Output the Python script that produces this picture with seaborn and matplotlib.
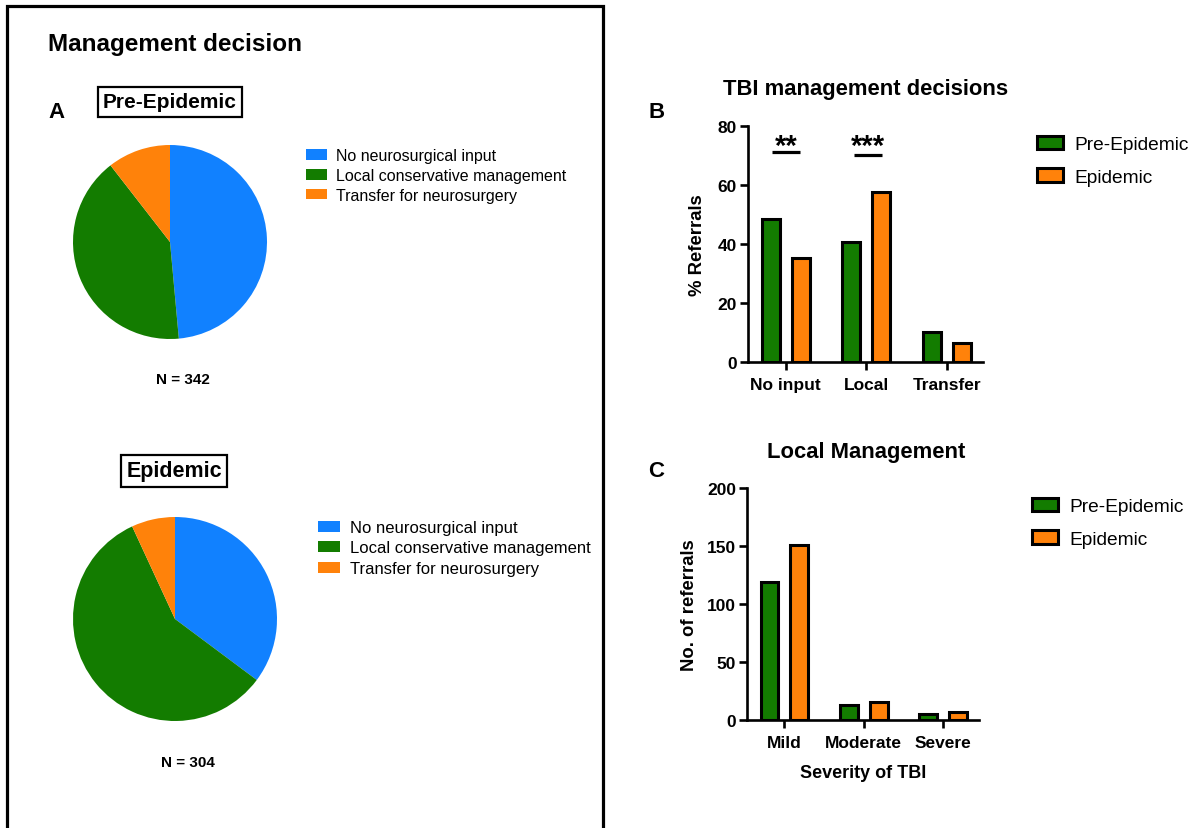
import numpy as np
import pandas as pd
import matplotlib
matplotlib.use("Agg")
import matplotlib.pyplot as plt
from matplotlib.patches import Patch, Rectangle
import seaborn as sns

# ---------------- data ----------------
pie_labels = ["No neurosurgical input", "Local conservative management", "Transfer for neurosurgery"]
pre_pct = [48.5, 40.9, 10.5]
epi_pct = [35.2, 57.9, 6.9]
pre_n = "N = 342"
epi_n = "N = 304"

b_categories = ["No input", "Local", "Transfer"]
b_pre = [48.5, 40.8, 10.0]
b_epi = [35.2, 57.6, 6.4]
b_yticks = [0, 20, 40, 60, 80]

c_categories = ["Mild", "Moderate", "Severe"]
c_pre = [119, 13, 5]
c_epi = [151, 15, 7]
c_yticks = [0, 50, 100, 150, 200]

periods = ["Pre-Epidemic", "Epidemic"]

# ---------------- style ----------------
sns.set_theme(style="ticks")
plt.rcParams["font.family"] = ["Liberation Sans", "DejaVu Sans"]
plt.rcParams["axes.linewidth"] = 1.9
for k in ["text.color", "axes.labelcolor", "xtick.color", "ytick.color", "axes.edgecolor"]:
    plt.rcParams[k] = "black"

BLUE = "#1181FF"
GREEN = "#137C00"
ORANGE = "#FF820A"
pie_colors = [BLUE, GREEN, ORANGE]

W, H = 1200, 829
fig = plt.figure(figsize=(W / 100, H / 100), dpi=100)


def px_axes(x0, y0, x1, y1):
    """axes from pixel box (top-left origin)"""
    return fig.add_axes([x0 / W, 1 - y1 / H, (x1 - x0) / W, (y1 - y0) / H])


def ftext(x, y, s, **kw):
    fig.text(x / W, 1 - y / H, s, **kw)


# left framing box
fig.patches.append(Rectangle((7 / W, -0.02), (603 - 7) / W, (822 / H) + 0.02,
                             transform=fig.transFigure, fill=False,
                             edgecolor="black", linewidth=2.3))

ftext(48, 44, "Management decision", fontsize=17.5, fontweight="bold", va="center", ha="left")
ftext(48, 112, "A", fontsize=16, fontweight="bold", va="center", ha="left")

box = dict(boxstyle="square,pad=0.25", fc="white", ec="black", lw=1.6)
ftext(170, 103, "Pre-Epidemic", fontsize=15, fontweight="bold", va="center", ha="center", bbox=box)
ftext(174, 472, "Epidemic", fontsize=15.5, fontweight="bold", va="center", ha="center", bbox=box)


def draw_pie(cx, cy, r, vals, leg_x, leg_y, fs, spacing):
    ax = px_axes(cx - r, cy - r, cx + r, cy + r)
    ax.pie(vals, colors=pie_colors, startangle=90, counterclock=False,
           wedgeprops=dict(linewidth=0))
    ax.set_xlim(-1, 1)
    ax.set_ylim(-1, 1)
    ax.set_aspect("equal")
    handles = [Patch(facecolor=c, edgecolor="none") for c in pie_colors]
    fig.legend(handles, pie_labels, loc="upper left",
               bbox_to_anchor=(leg_x / W, 1 - leg_y / H), frameon=False,
               fontsize=fs, handlelength=1.3, handleheight=0.65,
               handletextpad=0.6, labelspacing=spacing, borderaxespad=0, borderpad=0)


draw_pie(170, 243, 97, pre_pct, 306, 149, 11.5, 0.3)
ftext(183, 380, pre_n, fontsize=11, fontweight="bold", va="center", ha="center")
draw_pie(175, 620, 102, epi_pct, 318, 521, 12, 0.33)
ftext(188, 763, epi_n, fontsize=11, fontweight="bold", va="center", ha="center")


# ---------------- bar charts ----------------
letter_map = {"TBI management decisions": "B", "Local Management": "C"}


def bar_panel(x0, y_top, x1, y_bot, cats, pre, epi, yticks, ylabel, xlabel, title,
              title_y, letter_y, leg_y, leg_x, ylabelpad):
    ax = px_axes(x0, y_top, x1, y_bot)
    df = pd.DataFrame({
        "cat": cats * 2,
        "val": list(pre) + list(epi),
        "period": [periods[0]] * len(cats) + [periods[1]] * len(cats),
    })
    sns.barplot(data=df, x="cat", y="val", hue="period", order=cats,
                hue_order=periods, palette=[GREEN, ORANGE], width=0.75, gap=0.4,
                saturation=1, edgecolor="black", linewidth=2.2, errorbar=None,
                legend=False, ax=ax)
    ax.set_xlim(-0.47, 2.45)
    ax.set_ylim(yticks[0], yticks[-1])
    ax.set_yticks(yticks)
    sns.despine(ax=ax)
    ax.tick_params(axis="both", direction="out", length=6, width=1.9,
                   labelsize=12.5, color="black")
    ax.tick_params(axis="x", pad=5)
    ax.tick_params(axis="y", pad=2)
    for lab in ax.get_xticklabels() + ax.get_yticklabels():
        lab.set_fontweight("bold")
    ax.set_ylabel(ylabel, fontsize=13.3, fontweight="bold", labelpad=ylabelpad)
    ax.set_xlabel(xlabel, fontsize=13, fontweight="bold", labelpad=10)
    ftext(866, title_y, title, fontsize=15.8, fontweight="bold", ha="center", va="center")
    ftext(648, letter_y, letter_map[title], fontsize=16, fontweight="bold", ha="left", va="center")
    handles = [Patch(facecolor=c, edgecolor="black", linewidth=2.2) for c in (GREEN, ORANGE)]
    fig.legend(handles, periods, loc="upper left",
               bbox_to_anchor=(leg_x / W, 1 - leg_y / H), frameon=False,
               fontsize=13.8, handlelength=1.35, handleheight=0.7,
               handletextpad=0.6, labelspacing=0.78, borderaxespad=0, borderpad=0)
    return ax


axB = bar_panel(748, 127.3, 983, 362.7, b_categories, b_pre, b_epi, b_yticks,
                "% Referrals", "", "TBI management decisions", 90, 112, 137, 1037, 8)
# significance annotations
for xc, yline, stars in [(0.0, 71.2, "**"), (1.02, 70.2, "***")]:
    axB.plot([xc - 0.17, xc + 0.17], [yline, yline], color="black", lw=2.3,
             solid_capstyle="butt", clip_on=False)
    axB.text(xc, 70.5, stars, fontsize=21, fontweight="bold", ha="center",
             va="baseline")

axC = bar_panel(747, 489.3, 979, 720.7, c_categories, c_pre, c_epi, c_yticks,
                "No. of referrals", "Severity of TBI", "Local Management", 453, 472, 499, 1032, 6)

fig.savefig("out.png", dpi=100, facecolor="white")
